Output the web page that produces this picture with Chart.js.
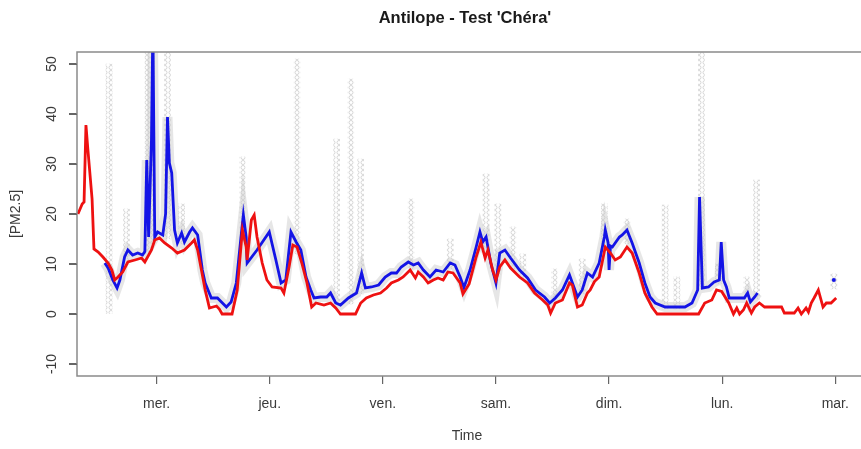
<!DOCTYPE html>
<html>
<head>
<meta charset="utf-8">
<script src="https://cdn.jsdelivr.net/npm/chart.js@4.4.0/dist/chart.umd.min.js"></script>
<style>
  body { margin: 0; background: #fff; }
  #wrap { width: 861px; height: 449px; position: relative; }
</style>
</head>
<body>
<div id="wrap"><canvas id="myChart"></canvas></div>
<script>
// axes
const dayTicks = [24, 48, 72, 96, 120, 144, 168];
const dayLabels = ['mer.', 'jeu.', 'ven.', 'sam.', 'dim.', 'lun.', 'mar.'];
const yTicks = [-10, 0, 10, 20, 30, 40, 50];

// red series (hours since mar. 00:00)
const redHours = [7.3, 8.2, 8.6, 9.0, 9.4, 10.3, 10.7, 11.6, 12.6, 13.7,
  14.5, 15.1, 15.8, 16.8, 17.9, 19.4, 20.8, 21.5, 22.9, 23.6,
  24.6, 25.7, 27.2, 28.4, 29.9, 31.4, 32.0, 32.7, 33.5, 34.3,
  35.2, 36.7, 37.3, 37.9, 40.0, 41.1, 42.2, 43.0, 43.2, 44.1,
  44.7, 45.3, 46.4, 47.4, 48.5, 50.4, 51.0, 52.1, 52.9, 53.8,
  54.8, 55.9, 56.9, 57.8, 59.5, 60.9, 62.0, 63.0, 66.2, 67.3,
  68.5, 70.0, 71.5, 72.8, 73.8, 75.3, 76.3, 77.8, 78.9, 79.5,
  80.6, 81.6, 82.7, 83.7, 84.8, 85.8, 86.9, 88.4, 89.0, 90.3,
  91.8, 92.8, 93.7, 94.3, 95.3, 96.0, 96.8, 97.9, 99.1, 101.0,
  102.7, 104.2, 105.9, 107.0, 107.6, 108.6, 110.1, 111.6, 112.2, 113.3,
  114.3, 115.4, 116.0, 116.9, 117.9, 119.2, 120.3, 121.3, 122.4, 123.8,
  124.9, 126.4, 127.6, 129.1, 130.2, 139.0, 140.3, 141.8, 142.8, 143.9,
  145.4, 146.4, 147.1, 147.7, 148.5, 149.2, 150.2, 150.9, 151.9, 153.0,
  156.6, 157.2, 159.3, 160.1, 160.8, 161.8, 162.3, 162.9, 163.5, 164.4,
  165.4, 166.1, 167.1, 168.2];
const redValues = [20.0, 22.0, 22.4, 37.8, 33.0, 23.0, 13.0, 12.4, 11.4, 10.2,
  8.8, 6.8, 7.4, 8.4, 10.4, 10.8, 11.2, 10.4, 12.8, 14.8,
  15.2, 14.2, 13.2, 12.2, 12.8, 14.2, 14.8, 12.8, 8.8, 4.8,
  1.2, 1.6, 1.0, 0, 0, 4.8, 16.8, 13.4, 10.8, 18.8,
  19.8, 15.4, 10.2, 6.8, 5.4, 5.2, 4.2, 9.4, 13.8, 13.4,
  10.2, 6.2, 1.4, 2.2, 1.8, 2.2, 1.2, 0, 0, 2.2,
  3.2, 3.8, 4.2, 5.2, 6.2, 6.8, 7.4, 8.8, 7.2, 8.4,
  7.4, 6.2, 6.8, 7.2, 6.8, 8.4, 8.2, 6.2, 4.0, 6.0,
  11.4, 14.4, 11.2, 12.8, 8.8, 6.8, 9.4, 10.8, 9.2, 7.4,
  6.2, 4.2, 2.8, 1.8, 0.2, 2.2, 2.8, 6.2, 5.8, 1.4,
  1.8, 4.2, 4.8, 6.5, 7.4, 13.4, 12.2, 10.8, 11.4, 13.4,
  12.2, 8.2, 4.2, 1.4, 0, 0, 2.2, 2.8, 4.8, 4.5,
  2.2, 0, 1.2, 0, 0.8, 2.2, 0.2, 1.4, 2.2, 1.4,
  1.4, 0.2, 0.2, 1.2, 0, 1.2, 0.4, 2.2, 3.2, 4.8,
  1.4, 2.2, 2.2, 3.2];

// blue series
const blueHours = [13.0, 13.7, 14.7, 15.6, 16.2, 17.2, 17.9, 18.9, 20.0, 21.0,
  21.5, 21.9, 22.3, 22.9, 23.2, 23.6, 24.2, 25.3, 25.9, 26.3,
  26.7, 27.2, 27.8, 28.4, 29.3, 29.9, 31.0, 31.6, 32.7, 33.7,
  34.3, 35.6, 36.9, 38.8, 39.8, 40.9, 41.9, 42.4, 43.0, 43.2,
  45.3, 47.9, 49.3, 50.4, 51.4, 52.5, 53.6, 54.6, 55.7, 56.7,
  57.4, 58.8, 60.1, 60.9, 62.0, 63.0, 64.7, 66.4, 67.5, 68.3,
  69.6, 71.1, 72.5, 73.8, 74.9, 75.9, 77.4, 78.5, 79.5, 80.6,
  82.0, 83.3, 84.8, 86.3, 87.3, 88.4, 89.2, 90.5, 91.8, 92.6,
  93.2, 93.9, 94.9, 96.0, 96.8, 97.9, 99.1, 101.0, 102.7, 104.4,
  106.3, 107.4, 108.6, 110.1, 111.6, 113.3, 114.3, 115.4, 116.5, 117.9,
  119.0, 119.2, 119.8, 120.0, 120.3, 120.7, 122.2, 122.8, 123.8, 124.9,
  126.4, 127.6, 128.7, 129.8, 131.9, 136.1, 137.6, 138.8, 139.2, 139.8,
  141.1, 142.3, 143.4, 143.8, 144.3, 144.9, 145.5, 148.7, 149.4, 150.0,
  150.9, 151.5, 160.0, 167.7];
const blueValues = [10.2, 9.2, 6.8, 5.2, 6.8, 11.4, 12.8, 11.8, 12.2, 11.8,
  12.5, 30.8, 15.4, 34.8, 58, 15.4, 16.4, 15.8, 20.0, 39.4,
  30.2, 28.2, 16.8, 14.2, 16.2, 14.4, 16.4, 17.2, 15.8, 8.8,
  6.2, 3.2, 3.2, 1.4, 2.4, 6.2, 15.4, 19.8, 15.4, 10.2,
  12.8, 16.4, 10.8, 6.2, 6.8, 16.4, 14.4, 12.8, 7.4, 4.8,
  3.2, 3.4, 3.4, 4.2, 2.2, 1.8, 3.2, 4.2, 8.2, 5.2,
  5.4, 5.8, 7.4, 8.2, 8.2, 9.4, 10.4, 9.8, 10.2, 8.8,
  7.4, 8.8, 8.4, 10.2, 9.8, 7.4, 5.3, 8.8, 13.4, 16.4,
  14.4, 15.4, 10.2, 6.2, 12.2, 12.8, 11.2, 8.8, 7.2, 4.8,
  3.4, 2.2, 3.2, 4.8, 7.8, 3.4, 4.8, 8.2, 7.4, 10.2,
  15.4, 16.8, 14.2, 8.8, 13.6, 13.4, 15.4, 15.8, 16.8, 14.2,
  10.2, 6.2, 3.4, 2.2, 1.4, 1.4, 2.2, 4.8, 23.4, 5.2,
  5.4, 6.4, 6.8, 14.4, 6.8, 5.4, 3.2, 3.2, 4.2, 2.4,
  3.4, 4.2, null, 6.8];

// grey sensor spread (columns of circles)
const spreadHours = [13.9, 17.6, 22.1, 22.9, 26.3, 29.3, 42.2, 53.8, 62.2, 65.2,
  67.3, 78.0, 86.3, 93.9, 96.4, 99.6, 101.7, 108.4, 114.3, 119.0,
  123.8, 131.9, 134.4, 139.6, 143.2, 149.2, 151.3, 167.7];
const spreadLow = [0, 10, 12, 14, 15, 14, 14, 12, 2, 2,
  4, 9, 9, 12, 8, 9, 7, 2, 4, 14,
  14, 1, 1, 5, 6, 3, 3, 5];
const spreadHigh = [50, 21, 58, 58, 58, 22, 31.4, 51, 35, 47,
  31, 23, 15, 28, 22, 17.4, 12, 9, 11, 22,
  19, 21.8, 7.4, 58, 10, 7.4, 26.8, 8];

const redData = redHours.map((h, i) => ({ x: h, y: redValues[i] }));
const blueData = blueHours.map((h, i) => ({ x: h, y: blueValues[i] }));
const spreadData = spreadHours.map((h, i) => ({ x: h, y: [spreadLow[i], spreadHigh[i]] }));

// motif de petits cercles gris
const tile = document.createElement('canvas');
tile.width = 6; tile.height = 5;
const tc = tile.getContext('2d');
tc.strokeStyle = '#d6d6d6';
tc.lineWidth = 1;
tc.beginPath();
tc.arc(3, 2.5, 2, 0, Math.PI * 2);
tc.stroke();
const dots = tc.createPattern(tile, 'repeat');

const FONT = "'Liberation Sans', Arial, sans-serif";
const TXT = '#3a3a3a';

const boxPlugin = {
  id: 'box',
  afterDraw(chart) {
    const { ctx, chartArea: a } = chart;
    const ys = chart.scales.y;
    ctx.save();
    ctx.strokeStyle = '#8a8a8a';
    ctx.lineWidth = 1.5;
    ctx.strokeRect(a.left, a.top, a.right - a.left + 5, a.bottom - a.top);
    // petits traits de graduation sur l'axe y
    ctx.strokeStyle = '#666';
    ctx.lineWidth = 1.2;
    ctx.beginPath();
    yTicks.forEach(v => {
      const py = Math.round(ys.getPixelForValue(v)) + 0.5;
      ctx.moveTo(a.left - 8, py);
      ctx.lineTo(a.left, py);
    });
    ctx.stroke();
    ctx.fillStyle = '#1a1a1a';
    ctx.font = 'bold 16.5px ' + FONT;
    ctx.textAlign = 'center';
    ctx.textBaseline = 'middle';
    ctx.fillText("Antilope - Test 'Chéra'", (a.left + a.right) / 2 - 2, 18);
    ctx.restore();
  }
};

const isolated = (c) => {
  const d = c.dataset.data, i = c.dataIndex;
  const p = d[i - 1], n = d[i + 1];
  return (!p || p.y == null) && (!n || n.y == null) ? 2 : 0;
};

const tickGrid = {
  display: true, offset: false, drawOnChartArea: false, drawTicks: true,
  tickLength: 8, color: '#666', lineWidth: 1.2
};

let ctx = document.getElementById('myChart').getContext('2d');
let chart = new Chart(ctx, {
  type: 'line',
  data: {
    datasets: [
      {
        label: 'rouge', data: redData, borderColor: '#ee1111', borderWidth: 2.8,
        pointRadius: 0, tension: 0, clip: 0
      },
      {
        label: 'bleu', data: blueData, borderColor: '#1414e6', borderWidth: 2.8,
        pointRadius: isolated, pointBackgroundColor: '#1414e6', pointBorderWidth: 0,
        tension: 0, spanGaps: false, clip: 0
      },
      {
        label: 'halo', data: blueData, borderColor: 'rgba(200,200,200,0.45)', borderWidth: 10,
        pointRadius: 0, tension: 0, spanGaps: false, clip: 0
      },
      {
        type: 'bar', label: 'capteurs', data: spreadData, backgroundColor: dots,
        borderWidth: 0, barThickness: 6, clip: 0
      }
    ]
  },
  options: {
    responsive: true,
    maintainAspectRatio: false,
    animation: false,
    layout: { padding: { top: 52, right: 0, left: 0, bottom: 0 } },
    plugins: { legend: { display: false }, tooltip: { enabled: false }, title: { display: false } },
    scales: {
      x: {
        type: 'linear', position: 'bottom', min: 7.1, max: 172.6, offset: false,
        afterFit: s => { s.height = 73; },
        afterBuildTicks: s => { s.ticks = dayTicks.map(v => ({ value: v })); },
        ticks: {
          callback: v => dayLabels[dayTicks.indexOf(v)],
          color: TXT, font: { family: FONT, size: 14 }, padding: 12,
          maxRotation: 0, autoSkip: false
        },
        grid: tickGrid,
        border: { display: false },
        title: { display: true, text: 'Time', color: TXT, font: { family: FONT, size: 14 }, padding: { top: 0, bottom: 4 } }
      },
      y: {
        type: 'linear', position: 'left', min: -12.4, max: 52.4, offset: false,
        afterFit: s => { s.width = 77; },
        afterBuildTicks: s => { s.ticks = yTicks.map(v => ({ value: v })); },
        ticks: {
          color: TXT, font: { family: FONT, size: 14 }, padding: 7,
          minRotation: 90, maxRotation: 90, crossAlign: 'center'
        },
        grid: tickGrid,
        border: { display: false },
        title: { display: true, text: '[PM2.5]', color: TXT, font: { family: FONT, size: 14 }, padding: { top: 8, bottom: 0 } }
      }
    }
  },
  plugins: [boxPlugin]
});
</script>
</body>
</html>
